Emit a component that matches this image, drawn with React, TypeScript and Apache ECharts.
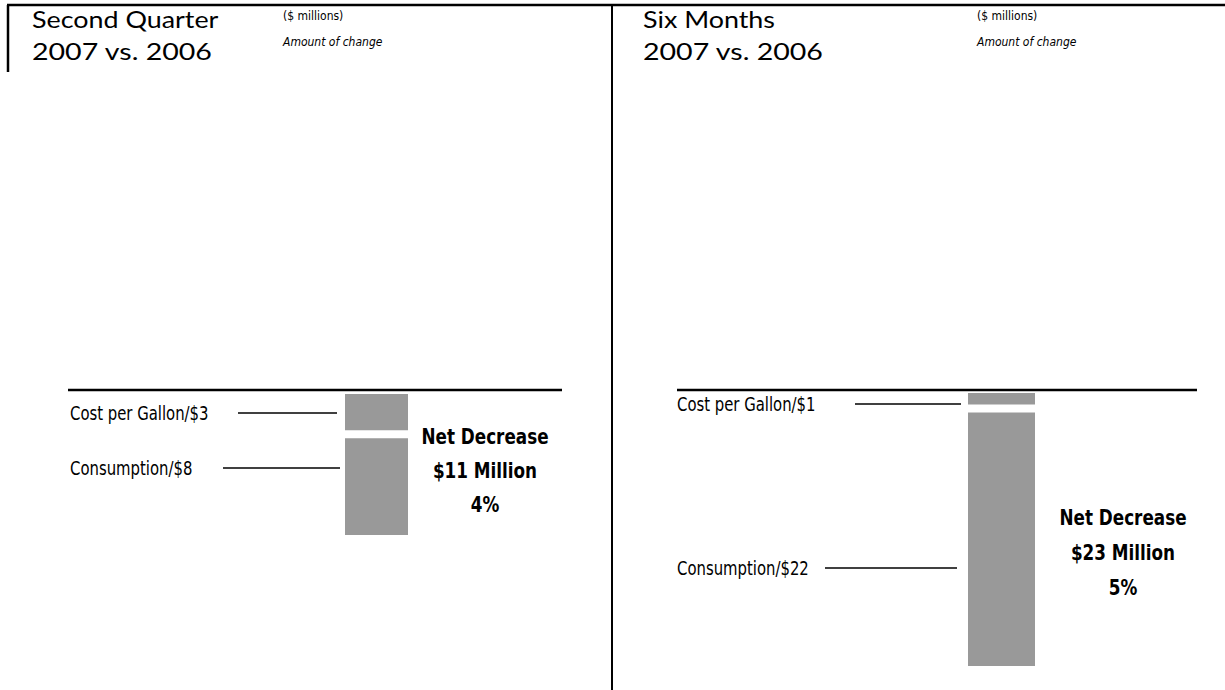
import React, { useEffect, useRef } from "react";
import * as echarts from "echarts";

// ---- data ----
const panelTitles = ["Second Quarter", "Six Months"];
const panelSubtitle = "2007 vs. 2006";
const unitNote = "($ millions)";
const changeNote = "Amount of change";
const segmentLabels = ["Cost per Gallon", "Consumption"];
const q2Values = [3, 8];
const sixMonthValues = [1, 22];
const netPercent = [4, 5];

const BAR_COLOR = "#999999";
const GAP = 8;
const TITLE_FONT = "Lato, 'Noto Sans', sans-serif";
const COND_FONT = "'DejaVu Sans Condensed', 'DejaVu Sans', sans-serif";

function buildSegments(values: number[]) {
  let acc = 0;
  return values.map((v, i) => {
    const start = acc;
    acc += v;
    return [0, start, acc, i];
  });
}

const sum = (a: number[]) => a.reduce((s, v) => s + v, 0);

export default function App() {
  const ref = useRef<HTMLDivElement>(null);
  useEffect(() => {
    if (!ref.current) return;
    const chart = echarts.init(ref.current, undefined, { renderer: "svg" });

    const renderItem = (params: any, api: any) => {
      const start = api.value(1);
      const end = api.value(2);
      const idx = api.value(3);
      const p0 = api.coord([0, start]);
      const p1 = api.coord([0, end]);
      const w = api.size([1, 0])[0];
      return {
        type: "rect",
        shape: { x: p0[0] - w / 2, y: p0[1] + idx * GAP, width: w, height: p1[1] - p0[1] },
        style: { fill: BAR_COLOR },
      };
    };

    const line = (x1: number, y1: number, x2: number, y2: number, lw: number) => ({
      type: "line",
      shape: { x1, y1, x2, y2 },
      style: { stroke: "#000", lineWidth: lw },
      silent: true,
    });
    const text = (
      t: string,
      x: number,
      y: number,
      font: string,
      extra: any = {}
    ) => ({
      type: "text",
      x,
      y,
      scaleX: extra.scaleX || 1,
      style: {
        text: t,
        font,
        fill: "#000",
        textAlign: extra.align || "left",
        align: extra.align || "left",
        textVerticalAlign: "middle",
        verticalAlign: "middle",
        lineHeight: extra.lineHeight,
      },
      silent: true,
    });

    const titleFont = `400 24px ${TITLE_FONT}`;
    const smallFont = `400 12px ${COND_FONT}`;
    const italicFont = `italic 400 12px ${COND_FONT}`;
    const labelFont = `400 19px ${COND_FONT}`;
    const boldFont = `700 21px ${COND_FONT}`;
    const T1 = { scaleX: 1.12 };
    const T2 = { scaleX: 1.19 };
    const L = { scaleX: 0.87 };

    chart.setOption({
      animation: false,
      grid: [
        { left: 345, width: 63, top: 394, height: 133 },
        { left: 968, width: 67, top: 393, height: 265 },
      ],
      xAxis: [
        { type: "category", data: [panelTitles[0]], gridIndex: 0, show: false },
        { type: "category", data: [panelTitles[1]], gridIndex: 1, show: false },
      ],
      yAxis: [
        { type: "value", gridIndex: 0, min: 0, max: sum(q2Values), inverse: true, show: false },
        { type: "value", gridIndex: 1, min: 0, max: sum(sixMonthValues), inverse: true, show: false },
      ],
      series: [
        {
          type: "custom",
          xAxisIndex: 0,
          yAxisIndex: 0,
          renderItem,
          data: buildSegments(q2Values),
          silent: true,
        },
        {
          type: "custom",
          xAxisIndex: 1,
          yAxisIndex: 1,
          renderItem,
          data: buildSegments(sixMonthValues),
          silent: true,
        },
      ],
      graphic: [
        // frame lines
        line(7, 5, 1225, 5, 2.5),
        line(8, 5, 8, 72, 2.5),
        line(612, 5, 612, 690, 2),
        line(68, 390, 562, 390, 2.5),
        line(677, 390, 1197, 390, 2.5),
        // titles
        text(panelTitles[0], 32, 19, titleFont, T1),
        text(panelSubtitle, 32, 51, titleFont, T2),
        text(unitNote, 283, 16, smallFont),
        text(changeNote, 283, 42, italicFont),
        text(panelTitles[1], 643, 19, titleFont, T1),
        text(panelSubtitle, 643, 51, titleFont, T2),
        text(unitNote, 977, 16, smallFont),
        text(changeNote, 977, 42, italicFont),
        // left labels
        text(`${segmentLabels[0]}/$${q2Values[0]}`, 70, 413, labelFont, L),
        line(238, 413, 337, 413, 1.5),
        text(`${segmentLabels[1]}/$${q2Values[1]}`, 70, 468, labelFont, L),
        line(223, 468, 340, 468, 1.5),
        text(
          `Net Decrease\n$${sum(q2Values)} Million\n${netPercent[0]}%`,
          485,
          471,
          boldFont,
          { align: "center", lineHeight: 34, scaleX: 0.89 }
        ),
        // right labels
        text(`${segmentLabels[0]}/$${sixMonthValues[0]}`, 677, 404, labelFont, L),
        line(855, 404, 961, 404, 1.5),
        text(`${segmentLabels[1]}/$${sixMonthValues[1]}`, 677, 568, labelFont, L),
        line(825, 568, 957, 568, 1.5),
        text(
          `Net Decrease\n$${sum(sixMonthValues)} Million\n${netPercent[1]}%`,
          1123,
          553,
          boldFont,
          { align: "center", lineHeight: 35, scaleX: 0.89 }
        ),
      ],
    });
    return () => chart.dispose();
  }, []);
  return (
    <div
      ref={ref}
      style={{ position: "fixed", left: 0, top: 0, width: 1225, height: 690, background: "#fff" }}
    />
  );
}
